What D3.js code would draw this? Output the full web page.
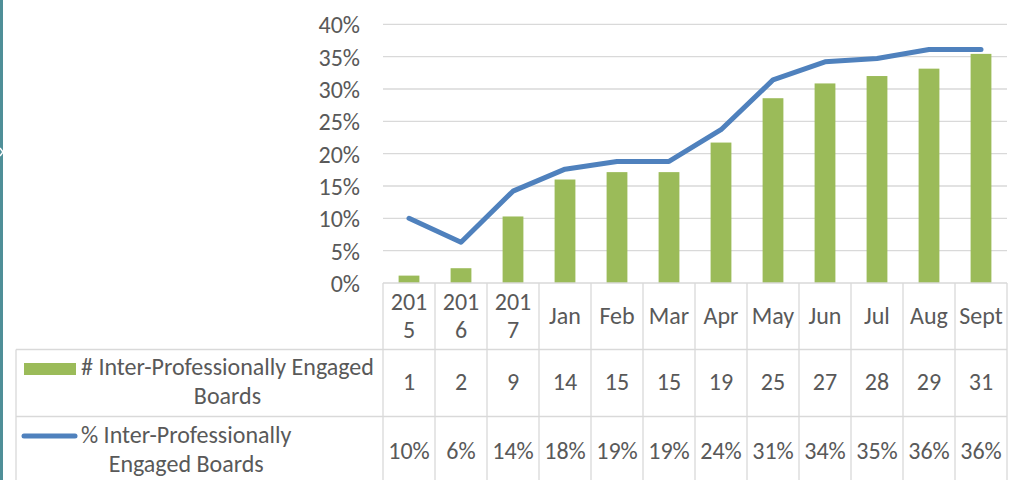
<!DOCTYPE html>
<html>
<head>
<meta charset="utf-8">
<script src="https://d3js.org/d3.v7.min.js"></script>
<style>
  body { margin: 0; background: #fff; }
  svg text { font-family: Calibri, Carlito, Lato, sans-serif; fill: #595959; font-size: 24px; }
</style>
</head>
<body>
<svg id="chart" width="1031" height="480"></svg>
<script>
// data
const categories = ["2015", "2016", "2017", "Jan", "Feb", "Mar", "Apr", "May", "Jun", "Jul", "Aug", "Sept"];
const boards = [1, 2, 9, 14, 15, 15, 19, 25, 27, 28, 29, 31];
const pctBoards = [0.10, 0.063, 0.142, 0.176, 0.188, 0.188, 0.237, 0.314, 0.342, 0.347, 0.361, 0.361];
const pctLabels = ["10%", "6%", "14%", "18%", "19%", "19%", "24%", "31%", "34%", "35%", "36%", "36%"];
const yTicks = [0, 0.05, 0.10, 0.15, 0.20, 0.25, 0.30, 0.35, 0.40];
const seriesNames = ["# Inter-Professionally Engaged Boards", "% Inter-Professionally Engaged Boards"];

const green = "#9bbb59", blue = "#4f81bd", grid = "#d9d9d9";

const svg = d3.select("#chart");

// teal edge on the left
svg.append("rect").attr("x", 0).attr("y", 0).attr("width", 3).attr("height", 480).attr("fill", "#4f8f98");
svg.append("polyline").attr("points", "0,148 3,152 0,156").attr("fill", "none")
   .attr("stroke", "#fff").attr("stroke-width", 1.5);

const plotL = 383, plotR = 1007, plotT = 24.3, base = 283;

const xCol = d3.scaleBand().domain(categories).range([plotL, plotR]);
const xBar = d3.scaleBand().domain(categories).range([plotL, plotR]).paddingInner(0.6).paddingOuter(0.3);
const y = d3.scaleLinear().domain([0, 0.40]).range([base, plotT]);
const y2 = d3.scaleLinear().domain([0, 35]).range([base, plotT]);

// gridlines
svg.append("g").selectAll("line").data(yTicks.slice(1)).join("line")
   .attr("x1", plotL).attr("x2", plotR)
   .attr("y1", d => y(d)).attr("y2", d => y(d))
   .attr("stroke", grid).attr("stroke-width", 1.3);

// y axis labels
const yAxis = d3.axisLeft(y).tickValues(yTicks).tickFormat(d3.format(".0%")).tickSize(0).tickPadding(0);
const gy = svg.append("g").attr("transform", "translate(360,0)").call(yAxis);
gy.select(".domain").remove();
gy.attr("font-family", null).attr("font-size", null);
gy.selectAll("text").attr("dy", "0.36em");

// bars
svg.append("g").selectAll("rect").data(boards).join("rect")
   .attr("x", (d, i) => xBar(categories[i]))
   .attr("width", xBar.bandwidth())
   .attr("y", d => y2(d))
   .attr("height", d => base - y2(d))
   .attr("fill", green);

// line
const line = d3.line()
   .x((d, i) => xCol(categories[i]) + xCol.bandwidth() / 2)
   .y(d => y(d));
svg.append("path").datum(pctBoards)
   .attr("d", line).attr("fill", "none")
   .attr("stroke", blue).attr("stroke-width", 5)
   .attr("stroke-linejoin", "round").attr("stroke-linecap", "round");

// data table
const rowTop = [base, 349.5, 416.5];
const tbl = svg.append("g").attr("stroke", grid).attr("stroke-width", 1.3);
tbl.append("line").attr("x1", plotL).attr("x2", plotR).attr("y1", rowTop[0]).attr("y2", rowTop[0]);
[rowTop[1], rowTop[2]].forEach(yy => {
  tbl.append("line").attr("x1", 16).attr("x2", plotR).attr("y1", yy).attr("y2", yy);
});
const colEdges = categories.map(c => xCol(c)).concat([plotR]);
tbl.selectAll("line.col").data(colEdges).join("line").attr("class", "col")
   .attr("x1", d => d).attr("x2", d => d).attr("y1", rowTop[0]).attr("y2", 480);
tbl.append("line").attr("x1", 16).attr("x2", 16).attr("y1", rowTop[1]).attr("y2", 480);

// category labels (wrapped by character when too wide)
const cx = c => xCol(c) + xCol.bandwidth() / 2;
const catG = svg.append("g");
categories.forEach(c => {
  const t = catG.append("text").attr("text-anchor", "middle").attr("x", cx(c)).text(c);
  if (t.node().getComputedTextLength() > xCol.bandwidth() - 7) {
    t.text(null);
    t.append("tspan").attr("x", cx(c)).attr("y", 310).text(c.slice(0, c.length - 1));
    t.append("tspan").attr("x", cx(c)).attr("y", 338).text(c.slice(-1));
  } else {
    t.attr("y", 324);
  }
});

svg.append("g").selectAll("text").data(boards).join("text")
   .attr("text-anchor", "middle")
   .attr("x", (d, i) => cx(categories[i])).attr("y", 390).text(d => d);

svg.append("g").selectAll("text").data(pctLabels).join("text")
   .attr("text-anchor", "middle")
   .attr("x", (d, i) => cx(categories[i])).attr("y", 459).text(d => d);

// legend cells
function legendText(name, firstWord, y1, y2b) {
  const words = name.split(" ");
  const l1 = words.slice(0, firstWord).join(" "), l2 = words.slice(firstWord).join(" ");
  const t1 = svg.append("text").attr("x", 81).attr("y", y1).text(l1);
  const w = t1.node().getComputedTextLength();
  svg.append("text").attr("x", 81 + w / 2).attr("y", y2b)
     .attr("text-anchor", "middle").text(l2);
}
svg.append("rect").attr("x", 24).attr("y", 363).attr("width", 52).attr("height", 12).attr("fill", green);
legendText(seriesNames[0], 3, 375, 404);
svg.append("line").attr("x1", 24).attr("x2", 75).attr("y1", 436).attr("y2", 436)
   .attr("stroke", blue).attr("stroke-width", 5).attr("stroke-linecap", "round");
legendText(seriesNames[1], 2, 443, 472);
</script>
</body>
</html>
